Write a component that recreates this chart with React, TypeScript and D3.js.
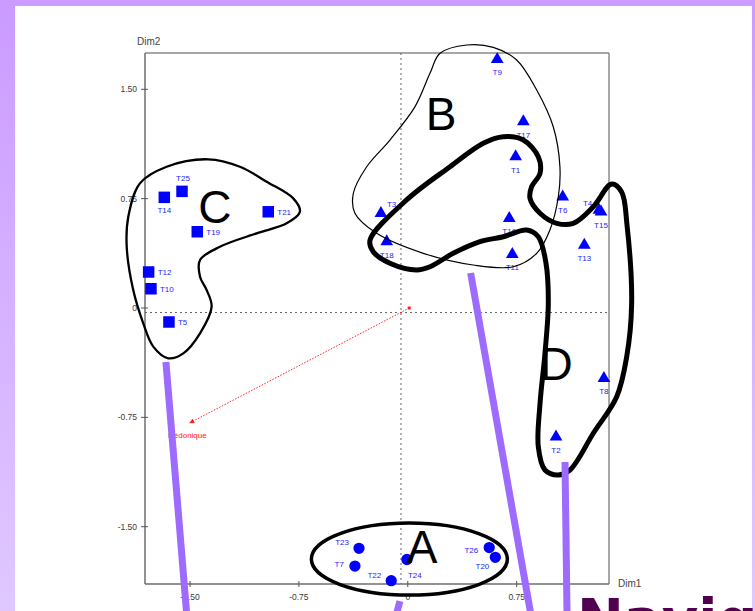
import React from "react";
import * as d3 from "d3";

const W = 755;
const H = 611;

// products on the Dim1 / Dim2 map
const triNames = ["T9", "T17", "T1", "T3", "T18", "T16", "T11", "T6", "T4", "T15", "T13", "T8", "T2"];
const triDim1 = [0.616, 0.796, 0.743, -0.185, -0.145, 0.699, 0.72, 1.067, 1.317, 1.331, 1.216, 1.351, 1.021];
const triDim2 = [1.706, 1.278, 1.038, 0.65, 0.455, 0.615, 0.368, 0.763, 0.672, 0.66, 0.432, -0.482, -0.883];

const sqNames = ["T25", "T14", "T21", "T19", "T12", "T10", "T5"];
const sqDim1 = [-1.555, -1.677, -0.961, -1.45, -1.785, -1.769, -1.645];
const sqDim2 = [0.8, 0.759, 0.66, 0.523, 0.247, 0.132, -0.096];

const circNames = ["T23", "T7", "T22", "T24", "T26", "T20"];
const circDim1 = [-0.336, -0.364, -0.114, -0.006, 0.561, 0.603];
const circDim2 = [-1.648, -1.77, -1.87, -1.725, -1.643, -1.71];

// label side for each point
const triLabelPos = ["below", "below", "below", "upright", "below", "below", "below", "below", "hidden", "below", "below", "below", "below"];
const sqLabelPos = ["above", "below", "right", "right", "right", "right", "right"];
const circLabelPos = ["upleft", "left", "upleft", "belowright", "lowleft", "belowleft"];

const yTicks = [1.5, 0.75, 0, -0.75, -1.5];
const yTickLabels = ["1.50", "0.75", "0", "-0.75", "-1.50"];
const xTicks = [-1.5, -0.75, 0, 0.75];
const xTickLabels = ["-1.50", "-0.75", "0", "0.75"];

// supplementary variable
const varName = "Hédonique";
const varDim1 = -1.5;
const varDim2 = -0.787;

// hand drawn groups (in map units)
const groupLetters = ["A", "B", "C", "D"];
const letterDim1 = [0.098, 0.229, -1.328, 1.021];
const letterDim2 = [-1.749, 1.221, 0.583, -0.494];

const outlineB: [number, number][] = [
  [0.406, 1.804], [0.222, 1.747], [0.153, 1.61], [0.05, 1.381], [-0.123, 1.152],
  [-0.283, 0.969], [-0.375, 0.787], [-0.364, 0.65], [-0.214, 0.512], [0.107, 0.375],
  [0.451, 0.295], [0.727, 0.283], [0.888, 0.375], [0.979, 0.535], [1.037, 0.763],
  [1.048, 0.969], [1.002, 1.243], [0.888, 1.495], [0.75, 1.701], [0.589, 1.788],
];

const outlineC: [number, number][] = [
  [-1.375, 1.02], [-1.661, 0.969], [-1.845, 0.855], [-1.925, 0.626], [-1.936, 0.42],
  [-1.891, 0.123], [-1.822, -0.105], [-1.753, -0.265], [-1.65, -0.345], [-1.546, -0.311],
  [-1.431, -0.174], [-1.351, 0.009], [-1.385, 0.123], [-1.431, 0.215], [-1.431, 0.329],
  [-1.294, 0.42], [-1.041, 0.512], [-0.834, 0.581], [-0.743, 0.66], [-0.789, 0.752],
  [-0.972, 0.866], [-1.156, 0.969],
];

const outlineThick: [number, number][] = [
  [-0.26, 0.466], [-0.008, 0.741], [0.291, 0.969], [0.52, 1.13], [0.658, 1.175],
  [0.796, 1.152], [0.899, 1.038], [0.911, 0.924], [0.853, 0.832], [0.842, 0.752],
  [0.911, 0.65], [1.026, 0.581], [1.14, 0.581], [1.278, 0.695], [1.404, 0.85],
  [1.473, 0.796], [1.51, 0.569], [1.542, 0.032], [1.508, -0.334], [1.439, -0.608],
  [1.278, -0.859], [1.117, -1.111], [1.035, -1.145], [0.945, -1.111], [0.899, -0.951],
  [0.911, -0.654], [0.945, -0.311], [0.968, 0.032], [0.952, 0.307], [0.899, 0.489],
  [0.819, 0.535], [0.658, 0.489], [0.497, 0.455], [0.313, 0.375], [0.153, 0.283],
  [0.061, 0.261], [-0.123, 0.307], [-0.238, 0.386],
];

const ellipseA = { c: [0.011, -1.722], r: [0.675, 0.247] };

const callouts: [number, number][][] = [
  [[-1.666, -0.37], [-1.522, -2.11]],
  [[0.433, 0.24], [0.849, -2.11]],
  [[1.083, -1.056], [1.097, -2.11]],
  [[-0.054, -2.01], [-0.081, -2.11]],
];

const labelOffsets: Record<string, [number, number, string]> = {
  below: [0, 16, "middle"],
  above: [1, -10, "middle"],
  right: [9, 3, "start"],
  upright: [6, -6, "start"],
  hidden: [-16, -4, "start"],
  upleft: [-10, -3, "end"],
  left: [-11, 1, "end"],
  lowleft: [-11, 5, "end"],
  belowright: [1, 18, "start"],
  belowleft: [-6, 12, "end"],
};

const xs = d3.scaleLinear().domain([-1.81, 1.386]).range([145, 609]);
const ys = d3.scaleLinear().domain([-1.893, 1.749]).range([584, 53]);

const closedLine = d3
  .line<[number, number]>()
  .x((d) => xs(d[0]))
  .y((d) => ys(d[1]))
  .curve(d3.curveCatmullRomClosed.alpha(0.5));

const triPath = d3.symbol().type(d3.symbolTriangle).size(70)()!;
const sqPath = d3.symbol().type(d3.symbolSquare).size(132)()!;
const circPath = d3.symbol().type(d3.symbolCircle).size(100)()!;

const BLUE = "#0000ff";
const LABEL_BLUE = "#2424ff";
const PURPLE = "#9d6cff";

function PointGroup({ names, d1, d2, pos, shape }: any) {
  return (
    <g>
      {names.map((n: string, i: number) => {
        const [dx, dy, anchor] = labelOffsets[pos[i]];
        const px = xs(d1[i]);
        const py = ys(d2[i]);
        return (
          <g key={n}>
            <path d={shape} transform={`translate(${px},${py})`} fill={BLUE} />
            <text x={px + dx} y={py + dy} textAnchor={anchor} fontSize={8} fill={LABEL_BLUE}>
              {n}
            </text>
          </g>
        );
      })}
    </g>
  );
}

export default function App() {
  const [x0, x1] = xs.range();
  const [y0, y1] = ys.range();
  const dashX = xs(-0.047);
  const dashY = ys(-0.031);

  return (
    <div style={{ position: "absolute", left: 0, top: 0 }}>
      <svg width={W} height={H} style={{ display: "block" }} fontFamily="'Liberation Sans', Arial, sans-serif">
        <defs>
          <linearGradient id="bg" x1="0" y1="0" x2="0" y2="1">
            <stop offset="0" stopColor="#cb9bff" />
            <stop offset="1" stopColor="#e0c8ff" />
          </linearGradient>
          <marker id="arr" viewBox="0 0 6 6" refX="5" refY="3" markerWidth="5" markerHeight="5" orient="auto">
            <path d="M0,0 L6,3 L0,6 Z" fill="#ff2020" />
          </marker>
        </defs>
        <rect width={W} height={H} fill="url(#bg)" />
        <rect x={15} y={6} width={737} height={H} fill="#ffffff" />

        {/* frame */}
        <line x1={x0} x2={x1} y1={y1} y2={y1} stroke="#8a8a8a" strokeWidth={1.5} />
        <line x1={x1} x2={x1} y1={y1} y2={y0} stroke="#8a8a8a" strokeWidth={1.5} />
        <line x1={x0} x2={x0} y1={y1} y2={y0} stroke="#6e6e6e" strokeWidth={1.5} />
        <line x1={x0} x2={x1} y1={y0} y2={y0} stroke="#6e6e6e" strokeWidth={1.5} />

        {yTicks.map((t, i) => (
          <g key={"y" + t}>
            <line x1={x0 - 4} x2={x0 + 3} y1={ys(t)} y2={ys(t)} stroke="#555" />
            <text x={x0 - 8} y={ys(t) + 3} textAnchor="end" fontSize={8.5} fill="#3a3a3a">
              {yTickLabels[i]}
            </text>
          </g>
        ))}
        {xTicks.map((t, i) => (
          <g key={"x" + t}>
            <line x1={xs(t)} x2={xs(t)} y1={y0 - 3} y2={y0 + 3} stroke="#555" />
            <text x={xs(t)} y={y0 + 16} textAnchor="middle" fontSize={8.5} fill="#3a3a3a">
              {xTickLabels[i]}
            </text>
          </g>
        ))}
        <text x={137} y={45} fontSize={10} fill="#444">Dim2</text>
        <text x={618} y={587} fontSize={10} fill="#444">Dim1</text>

        {/* origin lines */}
        <line x1={dashX} x2={dashX} y1={y1} y2={y0} stroke="#666" strokeDasharray="2,3" />
        <line x1={x0} x2={x1} y1={dashY} y2={dashY} stroke="#666" strokeDasharray="2,3" />

        {/* variable vector */}
        <rect x={xs(0.01) - 1.5} y={ys(0) - 1.5} width={3} height={3} fill="#ff2020" />
        <line
          x1={xs(0.01)}
          y1={ys(0)}
          x2={xs(varDim1)}
          y2={ys(varDim2)}
          stroke="#ff2020"
          strokeWidth={1}
          strokeDasharray="1.5,1.5"
          markerEnd="url(#arr)"
        />
        <text x={xs(varDim1) - 22} y={ys(varDim2) + 15} fontSize={8} fill="#ff2020">
          {varName}
        </text>

        <PointGroup names={triNames} d1={triDim1} d2={triDim2} pos={triLabelPos} shape={triPath} />
        <PointGroup names={sqNames} d1={sqDim1} d2={sqDim2} pos={sqLabelPos} shape={sqPath} />
        <PointGroup names={circNames} d1={circDim1} d2={circDim2} pos={circLabelPos} shape={circPath} />

        {/* group outlines */}
        <path d={closedLine(outlineB)!} fill="none" stroke="#000" strokeWidth={1.2} />
        <path d={closedLine(outlineC)!} fill="none" stroke="#000" strokeWidth={2.3} />
        <path d={closedLine(outlineThick)!} fill="none" stroke="#000" strokeWidth={5} strokeLinejoin="round" />
        <ellipse
          cx={xs(ellipseA.c[0])}
          cy={ys(ellipseA.c[1])}
          rx={xs(ellipseA.r[0]) - xs(0)}
          ry={ys(0) - ys(ellipseA.r[1])}
          fill="none"
          stroke="#000"
          strokeWidth={3.5}
        />
        {groupLetters.map((l, i) => (
          <text key={l} x={xs(letterDim1[i])} y={ys(letterDim2[i])} textAnchor="middle" fontSize={46} fill="#000">
            {l}
          </text>
        ))}

        {callouts.map((c, i) => (
          <line
            key={i}
            x1={xs(c[0][0])}
            y1={ys(c[0][1])}
            x2={xs(c[1][0])}
            y2={ys(c[1][1])}
            stroke={PURPLE}
            strokeWidth={7}
          />
        ))}

        <text x={577} y={638} fontFamily="'DejaVu Sans', Verdana, sans-serif" fontWeight="bold" fontSize={56} fill="#520050">
          Navigation
        </text>
      </svg>
    </div>
  );
}
